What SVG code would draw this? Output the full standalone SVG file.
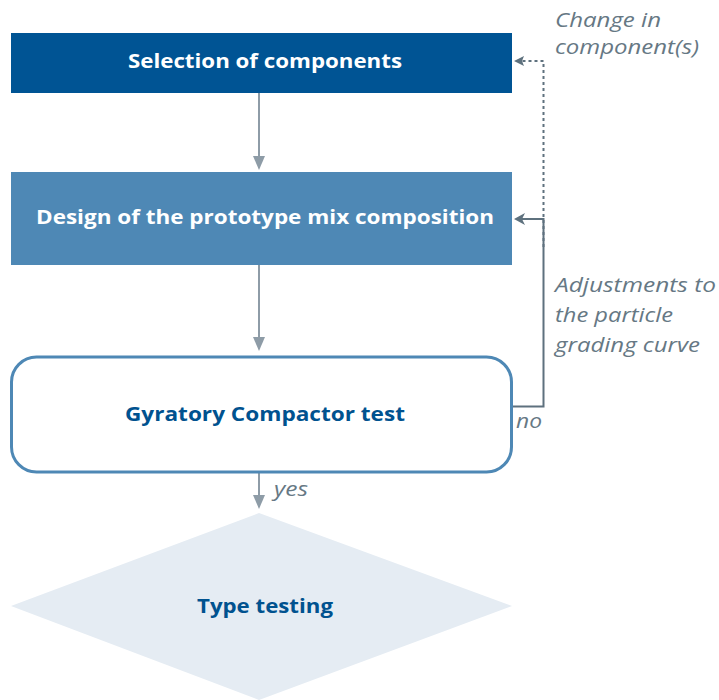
<svg xmlns="http://www.w3.org/2000/svg" width="719" height="700" viewBox="0 0 719 700">
<style>
.title{font-family:"Open Sans","Liberation Sans",sans-serif;font-weight:bold;font-size:20px}
.w{fill:#ffffff}
.b{fill:#00528f}
.lbl{font-family:"Open Sans","Liberation Sans",sans-serif;font-style:italic;font-size:20px;fill:#667884}
.flow{stroke:#8e9ca7;stroke-width:2;fill:none}
.fb{stroke:#5e717e;stroke-width:2;fill:none}
.head{fill:#8e9ca7}
.fbhead{fill:#5e717e}
</style>
<g id="connectors">
<line class="flow" x1="259" y1="93" x2="259" y2="158"/>
<path class="head" d="M253,156 L265,156 L259,170 z"/>
<line class="flow" x1="259" y1="265" x2="259" y2="339"/>
<path class="head" d="M253,337 L265,337 L259,351 z"/>
<line class="flow" x1="259" y1="473" x2="259" y2="497"/>
<path class="head" d="M253,495 L265,495 L259,509 z"/>
<polyline class="fb" points="512,406.5 543.5,406.5 543.5,219 520,219"/>
<path class="fbhead" d="M514,219 L525,213 L522,219 L525,225 z"/>
<polyline class="fb" stroke-dasharray="3,3" points="543.5,247 543.5,61 522,61"/>
<path class="fbhead" d="M514,61 L524,56 L522,61 L524,66 z"/>
</g>
<g id="selection">
<rect x="11" y="33" width="501" height="60" fill="#005494"/>
<text class="title w" x="128" y="68" textLength="274" lengthAdjust="spacingAndGlyphs">Selection of components</text>
</g>
<g id="design">
<rect x="11" y="172" width="501" height="93" fill="#4e88b5"/>
<text class="title w" x="36" y="224" textLength="458" lengthAdjust="spacingAndGlyphs">Design of the prototype mix composition</text>
</g>
<g id="gyratory">
<rect x="11.5" y="357" width="500" height="115" rx="25" ry="25" fill="#ffffff" stroke="#4e88b5" stroke-width="3"/>
<text class="title b" x="125" y="421" textLength="280" lengthAdjust="spacingAndGlyphs">Gyratory Compactor test</text>
</g>
<g id="typetesting">
<polygon points="259,513 512,606 259,700 11,606" fill="#e5ecf3"/>
<text class="title b" x="197" y="613" textLength="136" lengthAdjust="spacingAndGlyphs">Type testing</text>
</g>
<g id="labels">
<text class="lbl" x="555" y="27" textLength="106" lengthAdjust="spacingAndGlyphs">Change in</text>
<text class="lbl" x="555" y="54" textLength="144" lengthAdjust="spacingAndGlyphs">component(s)</text>
<text class="lbl" x="555" y="292" textLength="161" lengthAdjust="spacingAndGlyphs">Adjustments to</text>
<text class="lbl" x="555" y="322" textLength="118" lengthAdjust="spacingAndGlyphs">the particle</text>
<text class="lbl" x="555" y="352" textLength="145" lengthAdjust="spacingAndGlyphs">grading curve</text>
<text class="lbl" x="516" y="428" textLength="26" lengthAdjust="spacingAndGlyphs">no</text>
<text class="lbl" x="274" y="496" textLength="34" lengthAdjust="spacingAndGlyphs">yes</text>
</g>
</svg>
